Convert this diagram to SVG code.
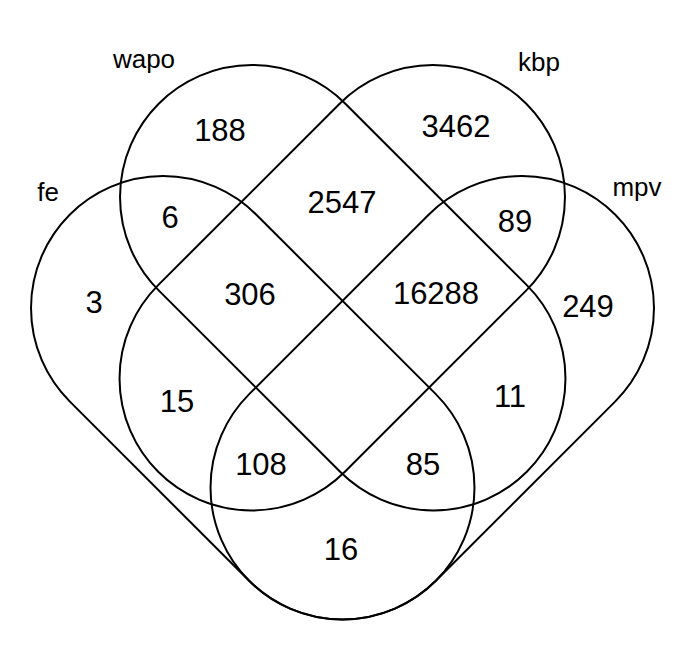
<svg xmlns="http://www.w3.org/2000/svg" width="682" height="648" viewBox="0 0 682 648">
<style>
.s{fill:none;stroke:#000;stroke-width:2}
.lab{font-family:"Liberation Sans",Arial,sans-serif;font-size:26px;fill:#000;text-anchor:middle}
.n{font-family:"Liberation Sans",Arial,sans-serif;font-size:31px;fill:#000;text-anchor:middle}
</style>
<rect width="682" height="648" fill="#fff"/>
<g id="fe">
<rect class="s" x="-258.9" y="-132" width="517.8" height="264" rx="132" transform="translate(252.75 397.75) rotate(45)"/>
<text class="lab" x="48" y="201">fe</text>
</g>
<g id="wapo">
<rect class="s" x="-260.3" y="-132" width="520.6" height="264" rx="132" transform="translate(342.75 287.75) rotate(45)"/>
<text class="lab" x="144" y="68">wapo</text>
</g>
<g id="kbp">
<rect class="s" x="-260.3" y="-132" width="520.6" height="264" rx="132" transform="translate(342.25 287.75) rotate(-45)"/>
<text class="lab" x="539" y="71">kbp</text>
</g>
<g id="mpv">
<rect class="s" x="-258.9" y="-132" width="517.8" height="264" rx="132" transform="translate(432.25 397.75) rotate(-45)"/>
<text class="lab" x="637" y="196">mpv</text>
</g>
<g id="counts">
<text class="n" x="220" y="141">188</text>
<text class="n" x="456" y="137">3462</text>
<text class="n" x="170" y="228">6</text>
<text class="n" x="342" y="213">2547</text>
<text class="n" x="515" y="232">89</text>
<text class="n" x="94" y="313">3</text>
<text class="n" x="250" y="305">306</text>
<text class="n" x="436" y="304">16288</text>
<text class="n" x="588" y="317">249</text>
<text class="n" x="177" y="412">15</text>
<text class="n" x="510" y="407">11</text>
<text class="n" x="261" y="475">108</text>
<text class="n" x="423" y="475">85</text>
<text class="n" x="341" y="560">16</text>
</g>
</svg>
